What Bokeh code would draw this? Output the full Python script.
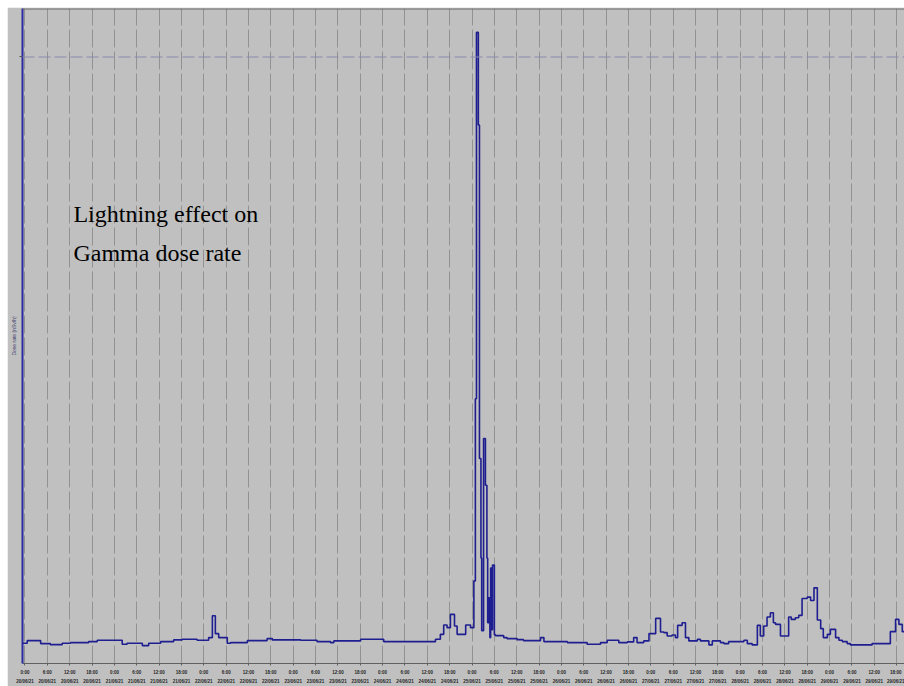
from bokeh.plotting import figure
from bokeh.models import Range1d, FixedTicker, Span, Label, Spacer
from bokeh.layouts import column, row
from bokeh.embed import file_html
from bokeh.resources import INLINE

# time since start (hours) and gamma dose rate (arbitrary units)
hours = [-0.7, 0.6, 4.2, 6.8, 10.0, 12.2, 17.1, 19.4, 26.1, 27.4, 31.5, 33.2, 36.4, 39.9, 42.2, 46.2,
         49.3, 50.3, 51.1, 52.0, 54.3, 55.2, 59.7, 65.0, 66.4, 74.0, 78.4, 82.0, 82.9, 90.1, 96.3,
         110.2, 111.5, 112.4, 113.3, 114.2, 115.3, 116.0, 118.3, 119.6, 120.5, 120.9, 121.2, 121.7,
         122.0, 122.4, 122.6, 123.1, 123.6, 124.0, 124.2, 124.5, 124.8, 125.0, 125.3, 125.5, 126.0,
         126.3, 128.5, 129.4, 132.1, 133.8, 138.4, 139.3, 145.6, 150.9, 154.5, 156.3, 159.4, 161.7,
         163.4, 164.3, 166.1, 167.5, 169.3, 170.6, 171.5, 172.4, 173.7, 174.6, 175.2, 176.4, 177.3,
         178.2, 180.5, 181.3, 183.6, 184.5, 186.7, 187.6, 188.9, 193.0, 193.9, 195.2, 196.6, 197.4,
         198.3, 199.2, 200.1, 200.9, 201.5, 202.8, 205.0, 205.7, 206.8, 207.7, 208.6, 210.0, 210.9,
         211.8, 212.7, 213.6, 214.3, 215.4, 216.2, 217.6, 218.5, 219.4, 220.7, 221.6, 227.4, 232.3,
         233.7, 234.6, 235.5, 236.2]
dose = [20.3, 23, 20, 19, 20.3, 21, 22, 23.3, 19.3, 20.3, 18, 20.3, 22, 23.7, 24.3, 23.3,
        26, 48, 30, 26, 20.3, 21, 23, 25, 23.7, 23.3, 22, 21, 22.7, 24.3, 22,
        24.3, 29.3, 38.7, 36, 49.3, 37.7, 29.3, 38.7, 36, 83, 266, 634, 541,
        206, 106, 33, 226, 179, 106, 41, 66, 26, 96, 34, 99, 29,
        28, 26, 25, 24, 23, 26, 22, 21, 19.3, 21, 23.3, 21, 21.7,
        26, 21, 22.7, 30, 45.3, 31.7, 31, 27.7, 28.7, 26, 38.3, 41, 26,
        22.7, 24.3, 22.7, 18.7, 22.7, 21, 20, 22, 23.3, 20, 18.7, 38.3, 27.7,
        37.7, 46.7, 51, 41, 39.3, 27.7, 46.7, 44.3, 46, 48.3, 65.3, 66.7, 63.3,
        76, 43.7, 35, 26, 29.3, 34.3, 26, 23.3, 22, 20, 18.7, 20, 32,
        44.3, 39.3, 32, 32]

ref_level = 609.3

tick_hours = list(range(0, 240, 6))
tick_times = ["0:00", "6:00", "12:00", "18:00"]
tick_dates = ["20/06/21", "21/06/21", "22/06/21", "23/06/21", "24/06/21",
              "25/06/21", "26/06/21", "27/06/21", "28/06/21", "29/06/21"]
tick_labels = [f"{tick_times[i % 4]}\n{tick_dates[i // 4]}" for i in range(len(tick_hours))]

BG = "#C0C0C0"
p = figure(width=897, height=679, output_backend="svg", toolbar_location=None,
           x_range=Range1d(-0.67, 236.1), y_range=Range1d(0, 658),
           min_border_left=15, min_border_right=0, min_border_top=1, min_border_bottom=20)
p.background_fill_color = BG
p.border_fill_color = BG
p.outline_line_color = None

# grid
p.ygrid.visible = False
p.xgrid.ticker = FixedTicker(ticks=tick_hours)
p.xgrid.grid_line_color = "#929292"
p.xgrid.grid_line_dash = "18 4"
p.xgrid.grid_line_width = 1

p.add_layout(Span(location=658, dimension="width", line_color="#6a6a6a", line_width=2))
p.add_layout(Span(location=ref_level, dimension="width", line_color="#8a8ab2",
                  line_dash="12 4", line_width=1.2))

# x axis
xa = p.xaxis[0]
xa.ticker = FixedTicker(ticks=tick_hours)
xa.major_label_overrides = {h: lab for h, lab in zip(tick_hours, tick_labels)}
xa.major_label_text_font_size = "4.5px"
xa.major_label_text_font_style = "bold"
xa.major_label_text_line_height = 1.8
xa.major_label_text_color = "#262626"
xa.major_label_standoff = 4
xa.major_tick_out = 2
xa.major_tick_in = 0
xa.minor_tick_line_color = None
xa.axis_line_color = "#606060"
xa.major_tick_line_color = "#606060"

# y axis
ya = p.yaxis[0]
ya.ticker = FixedTicker(ticks=[ref_level])
ya.major_label_overrides = {ref_level: ""}
ya.major_label_text_font_size = "1px"
ya.major_label_standoff = 0
ya.major_tick_out = 3
ya.major_tick_in = 0
ya.major_tick_line_color = "#555555"
ya.minor_tick_line_color = None
ya.axis_line_color = "#2a2aa0"
ya.axis_line_width = 2
ya.axis_label = "Dose rate (nSv/h)"
ya.axis_label_text_font_size = "5px"
ya.axis_label_text_font_style = "normal"
ya.axis_label_text_color = "#404070"
ya.axis_label_standoff = 3

p.step(hours, dose, mode="after", line_color="#1e1e90", line_width=1.6)

p.add_layout(Label(x=13.0, y=452, text="Lightning effect on", text_font="Liberation Serif",
                   text_font_size="24px", text_color="black", text_baseline="alphabetic"))
p.add_layout(Label(x=13.0, y=412, text="Gamma dose rate", text_font="Liberation Serif",
                   text_font_size="24px", text_color="black", text_baseline="alphabetic"))

layout = column(Spacer(height=7), row(Spacer(width=7), p))
open("out.html", "w").write(file_html(layout, INLINE))
